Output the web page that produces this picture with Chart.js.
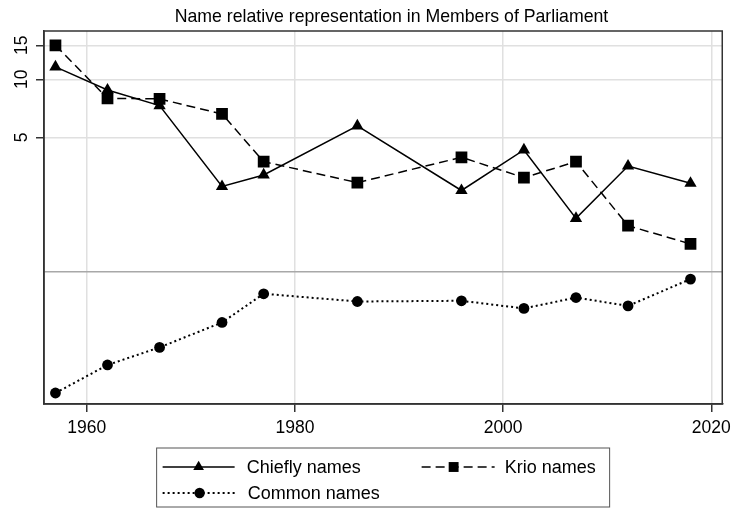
<!DOCTYPE html>
<html>
<head>
<meta charset="utf-8">
<script src="https://cdn.jsdelivr.net/npm/chart.js@4/dist/chart.umd.min.js"></script>
<style>
  body { margin: 0; background: #fff; }
</style>
</head>
<body>
<canvas id="myChart" width="737" height="512"></canvas>
<script>
// Election years
var years = [1957, 1962, 1967, 1973, 1977, 1986, 1996, 2002, 2007, 2012, 2018];
// Relative representation (log scale)
var chiefly = [11.6, 8.8, 7.3, 2.78, 3.19, 5.73, 2.65, 4.3, 1.9, 3.55, 2.89];
var krio = [15.0, 7.97, 7.91, 6.61, 3.74, 2.91, 3.94, 3.09, 3.74, 1.74, 1.40];
var common = [0.236, 0.33, 0.407, 0.548, 0.772, 0.704, 0.71, 0.648, 0.738, 0.668, 0.92];

var xTicks = [1960, 1980, 2000, 2020];
var yTicks = [1, 5, 10, 15];

var FONT = "'Liberation Sans', Arial, sans-serif";

function points(vals) {
    return years.map(function (yr, i) { return { x: yr, y: vals[i] }; });
}

var data = {
    datasets: [{
        label: "Chiefly names",
        data: points(chiefly),
        borderColor: '#000',
        borderWidth: 1.5,
        pointStyle: 'triangle',
        pointRadius: 7.1,
        pointBackgroundColor: '#000',
        pointBorderWidth: 0
    },
    {
        label: "Krio names",
        data: points(krio),
        borderColor: '#000',
        borderWidth: 1.5,
        borderDash: [9, 5],
        pointStyle: 'rect',
        pointRadius: 8.3,
        pointBackgroundColor: '#000',
        pointBorderWidth: 0
    },
    {
        label: "Common names",
        data: points(common),
        borderColor: '#000',
        borderWidth: 2,
        borderDash: [2, 3],
        pointStyle: 'circle',
        pointRadius: 5.4,
        pointBackgroundColor: '#000',
        pointBorderWidth: 0
    }]
};

// Title, rotated y labels, frame and Stata-like legend
var extras = {
    id: 'extras',
    afterDraw: function (chart) {
        var ctx = chart.ctx;
        var area = chart.chartArea;
        ctx.save();

        // frame
        ctx.strokeStyle = '#333';
        ctx.lineWidth = 1.5;
        ctx.strokeRect(area.left, area.top, area.right - area.left, area.bottom - area.top);

        // title
        ctx.fillStyle = '#000';
        ctx.font = '17.7px ' + FONT;
        ctx.textAlign = 'center';
        ctx.textBaseline = 'middle';
        ctx.fillText('Name relative representation in Members of Parliament', 391.5, 17.5);

        // y tick labels, rotated
        var ys = chart.scales.y;
        ctx.font = '17.5px ' + FONT;
        yTicks.forEach(function (v) {
            if (v === 1) return;
            ctx.save();
            ctx.translate(22.5, ys.getPixelForValue(v));
            ctx.rotate(-Math.PI / 2);
            ctx.fillText(String(v), 0, 0);
            ctx.restore();
        });

        // legend
        var cx = (area.left + area.right) / 2;
        var L = cx - 226.5, T = area.bottom + 44;
        ctx.strokeStyle = '#555';
        ctx.lineWidth = 1;
        ctx.strokeRect(L, T, 453, 59);

        var items = [
            { ds: 0, x0: L + 6, x1: L + 78, mx: L + 42, tx: L + 90, y: T + 19, r: 6.2 },
            { ds: 1, x0: L + 265, x1: L + 338, mx: L + 297, tx: L + 348, y: T + 19, r: 7.0 },
            { ds: 2, x0: L + 6, x1: L + 81, mx: L + 43, tx: L + 91, y: T + 45, r: 5.2 }
        ];
        ctx.font = '18px ' + FONT;
        ctx.textAlign = 'left';
        items.forEach(function (it) {
            var ds = chart.data.datasets[it.ds];
            ctx.strokeStyle = '#000';
            ctx.lineWidth = ds.borderWidth;
            ctx.setLineDash(ds.borderDash || []);
            ctx.beginPath();
            ctx.moveTo(it.x0, it.y);
            ctx.lineTo(it.x1, it.y);
            ctx.stroke();
            ctx.setLineDash([]);
            ctx.fillStyle = '#000';
            Chart.helpers.drawPoint(ctx, {
                pointStyle: ds.pointStyle, radius: it.r, borderWidth: 0, rotation: 0
            }, it.mx, it.y);
            ctx.fillText(ds.label, it.tx, it.y + 1);
        });

        ctx.restore();
    }
};

var options = {
    responsive: false,
    animation: false,
    layout: { padding: { top: 31, bottom: 78, left: 0, right: 13 } },
    plugins: {
        legend: { display: false },
        title: { display: false },
        tooltip: { enabled: false }
    },
    scales: {
        x: {
            type: 'linear',
            min: 1955.9,
            max: 2021.05,
            afterBuildTicks: function (s) { s.ticks = xTicks.map(function (v) { return { value: v }; }); },
            afterFit: function (s) { s.height = 30; },
            grid: { color: '#e0e0e0', lineWidth: 1.5, tickLength: 8, tickColor: '#333' },
            border: { color: '#333', width: 1.5 },
            ticks: {
                color: '#000',
                padding: 6,
                maxRotation: 0,
                font: { family: FONT, size: 17.5 },
                callback: function (v) { return String(v); }
            }
        },
        y: {
            type: 'logarithmic',
            min: 0.207,
            max: 17.8,
            afterBuildTicks: function (s) { s.ticks = yTicks.map(function (v) { return { value: v }; }); },
            afterFit: function (s) { s.width = 44; },
            grid: {
                lineWidth: 1.5,
                tickLength: 8,
                color: function (c) { return c.tick && c.tick.value === 1 ? '#a8a8a8' : '#e0e0e0'; },
                tickColor: function (c) { return c.tick && c.tick.value === 1 ? 'rgba(0,0,0,0)' : '#333'; }
            },
            border: { color: '#333', width: 1.5 },
            ticks: { display: false }
        }
    }
};

var ctx = document.getElementById('myChart').getContext('2d');
var myChart = new Chart(ctx, {
    type: 'line',
    data: data,
    options: options,
    plugins: [extras]
});
</script>
</body>
</html>
